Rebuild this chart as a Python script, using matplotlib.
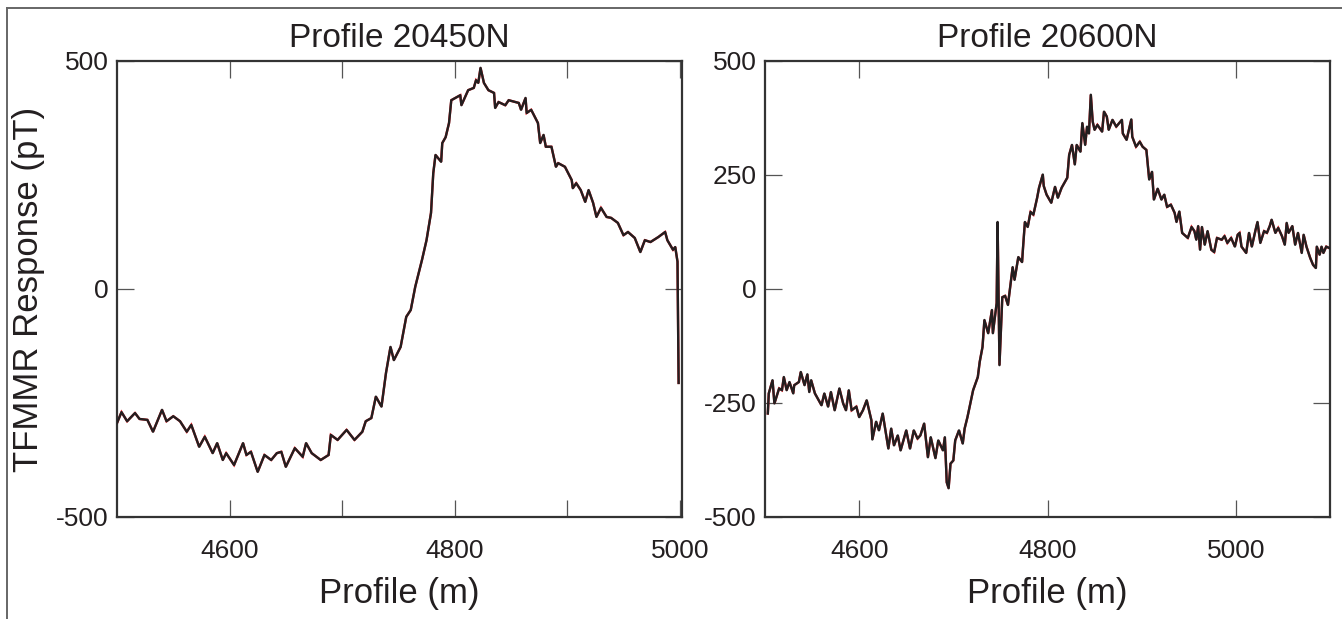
import matplotlib
matplotlib.use("Agg")
import matplotlib.pyplot as plt
from matplotlib.ticker import MultipleLocator, FixedLocator
from matplotlib.lines import Line2D

plt.rcParams['font.family'] = ['Liberation Sans', 'DejaVu Sans']
plt.rcParams['axes.unicode_minus'] = False

# ---------------- data ----------------
titles = ["Profile 20450N", "Profile 20600N"]
xlabel = "Profile (m)"
ylabel = "TFMMR Response (pT)"

x_20450 = [4500, 4504, 4509, 4516, 4520, 4527, 4532, 4540, 4544, 4550, 4556, 4562, 4566,
           4573, 4578, 4585, 4589, 4594, 4597, 4604, 4612, 4615, 4619, 4625, 4631, 4637,
           4642, 4646, 4650, 4658, 4665, 4668, 4673, 4681, 4688, 4690, 4696, 4704, 4711,
           4718, 4721, 4726, 4730, 4735, 4739, 4743, 4746, 4752, 4757, 4761, 4765, 4771,
           4775, 4779, 4781, 4783, 4788, 4789, 4792, 4795, 4797, 4805, 4806, 4812, 4817,
           4819, 4821, 4823, 4826, 4830, 4835, 4836, 4839, 4845, 4848, 4857, 4859, 4863,
           4864, 4868, 4874, 4876, 4879, 4881, 4886, 4890, 4892, 4898, 4904, 4905, 4908,
           4912, 4916, 4919, 4923, 4926, 4930, 4935, 4939, 4945, 4950, 4954, 4960, 4965,
           4969, 4974, 4981, 4987, 4989, 4994, 4996, 4998, 4999]
y_20450 = [-294, -270, -290, -272, -285, -287, -313, -265, -290, -279, -290, -313, -298,
           -346, -324, -360, -338, -375, -360, -386, -338, -364, -357, -401, -364, -375,
           -360, -357, -390, -349, -368, -338, -360, -375, -364, -320, -331, -309, -331,
           -313, -290, -283, -236, -258, -184, -127, -156, -127, -61, -46, 5, 64,
           107, 167, 254, 294, 279, 320, 333, 364, 414, 425, 403, 436, 441,
           458, 452, 485, 452, 436, 430, 397, 410, 403, 414, 408, 393, 419,
           386, 393, 364, 320, 338, 312, 312, 268, 276, 268, 239, 221, 232,
           217, 191, 217, 189, 158, 178, 158, 156, 145, 118, 125, 112, 81,
           107, 103, 114, 125, 107, 86, 92, 60, -206]

x_20600 = [4503, 4504, 4508, 4510, 4515, 4518, 4520, 4523, 4526, 4530, 4531, 4536, 4538,
           4542, 4545, 4547, 4549, 4553, 4557, 4560, 4563, 4567, 4570, 4574, 4579, 4583,
           4586, 4589, 4592, 4597, 4600, 4604, 4608, 4613, 4614, 4618, 4621, 4625, 4631,
           4634, 4637, 4641, 4644, 4650, 4654, 4658, 4662, 4665, 4669, 4673, 4676, 4681,
           4684, 4689, 4691, 4693, 4695, 4697, 4700, 4702, 4706, 4710, 4712, 4715, 4718,
           4721, 4726, 4728, 4731, 4733, 4737, 4741, 4742, 4746, 4747, 4749, 4752, 4755,
           4758, 4763, 4765, 4769, 4773, 4774, 4776, 4779, 4782, 4785, 4789, 4791, 4795,
           4796, 4799, 4804, 4808, 4811, 4815, 4821, 4823, 4826, 4829, 4831, 4835, 4837,
           4840, 4842, 4844, 4846, 4848, 4850, 4853, 4858, 4860, 4863, 4865, 4869, 4873,
           4879, 4880, 4884, 4889, 4890, 4894, 4898, 4901, 4905, 4908, 4911, 4913, 4917,
           4921, 4924, 4927, 4931, 4935, 4937, 4940, 4943, 4949, 4953, 4956, 4958, 4960,
           4962, 4964, 4967, 4970, 4974, 4977, 4980, 4985, 4988, 4991, 4995, 4999, 5002,
           5004, 5006, 5011, 5014, 5017, 5021, 5023, 5026, 5030, 5033, 5036, 5038, 5042,
           5045, 5049, 5052, 5054, 5056, 5060, 5063, 5066, 5070, 5072, 5075, 5079, 5082,
           5085, 5086, 5089, 5091, 5093, 5096, 5099]
y_20600 = [-273, -229, -200, -251, -218, -222, -193, -222, -204, -229, -211, -204, -182,
           -211, -187, -226, -200, -229, -244, -255, -229, -258, -226, -266, -218, -251,
           -266, -222, -266, -258, -281, -266, -244, -288, -330, -291, -310, -273, -350,
           -306, -343, -321, -354, -310, -350, -310, -328, -321, -295, -369, -325, -371,
           -332, -354, -325, -424, -437, -383, -376, -332, -310, -339, -306, -281, -251,
           -222, -193, -160, -127, -68, -97, -46, -97, -31, 147, -167, -18, -15,
           -35, 48, 20, 70, 59, 90, 147, 136, 169, 163, 200, 222, 251,
           226, 207, 189, 224, 200, 222, 244, 294, 316, 273, 316, 301, 364,
           316, 356, 341, 426, 367, 349, 360, 345, 389, 378, 349, 371, 356,
           371, 341, 327, 372, 334, 312, 323, 312, 305, 240, 257, 196, 220,
           196, 207, 180, 185, 167, 147, 170, 123, 112, 136, 127, 108, 138,
           86, 136, 97, 127, 86, 81, 112, 108, 116, 101, 112, 93, 119,
           123, 93, 79, 123, 93, 130, 147, 101, 127, 123, 138, 152, 123,
           134, 116, 97, 145, 123, 138, 97, 123, 79, 119, 93, 68, 53,
           46, 93, 75, 93, 79, 93, 90]

xlims = [(4500, 5002), (4500, 5100)]
ylims = [(-500, 500), (-500, 500)]
yticks_left = [-500, 0, 500]
xtick_labels_left = [4600, 4800, 5000]

# ---------------- figure ----------------
W, H = 1342, 619
fig = plt.figure(figsize=(W / 100, H / 100), dpi=100)
fig.patch.set_facecolor('white')

txt = '#231f20'
spine_c = '#333333'
tick_c = '#555555'

ax1 = fig.add_axes([117 / W, 1 - 517 / H, (682 - 117) / W, (517 - 61) / H])
ax2 = fig.add_axes([765 / W, 1 - 517 / H, (1330 - 765) / W, (517 - 61) / H])

for ax, xs, ys, title in [(ax1, x_20450, y_20450, titles[0]), (ax2, x_20600, y_20600, titles[1])]:
    ax.plot(xs, ys, color='#ed1c24', lw=1.7, solid_joinstyle='miter', zorder=2)
    ax.plot(xs, ys, color=txt, lw=1.7, solid_joinstyle='round', zorder=3)
    for s in ax.spines.values():
        s.set_color(spine_c)
        s.set_linewidth(1.6)
    ax.set_title(title, fontsize=24, color=txt, pad=10)
    ax.set_xlabel(xlabel, fontsize=25, color=txt, labelpad=10)
    ax.tick_params(which='both', direction='in', length=12, width=0.9, colors=tick_c,
                   top=True, right=True, labelsize=19, labelcolor=txt)
    ax.tick_params(axis='y', pad=6)
    ax.tick_params(axis='x', pad=16)

ax1.set_xlim(*xlims[0])
ax1.set_ylim(*ylims[0])
ax1.xaxis.set_major_locator(FixedLocator(xtick_labels_left))
ax1.xaxis.set_minor_locator(FixedLocator([4700, 4900]))
ax1.yaxis.set_major_locator(FixedLocator(yticks_left))
ax1.set_ylabel(ylabel, fontsize=25, color=txt, labelpad=8)

ax2.set_xlim(*xlims[1])
ax2.set_ylim(*ylims[1])
ax2.xaxis.set_major_locator(MultipleLocator(200))
ax2.yaxis.set_major_locator(MultipleLocator(250))

# outer frame (partially cropped border)
fx = 7 / W
fy = 1 - 8 / H
fig.add_artist(Line2D([fx, fx], [0, fy], transform=fig.transFigure, color='#666666', lw=1.4))
fig.add_artist(Line2D([fx, 1], [fy, fy], transform=fig.transFigure, color='#666666', lw=1.4))

fig.savefig('out.png', dpi=100, facecolor='white')
